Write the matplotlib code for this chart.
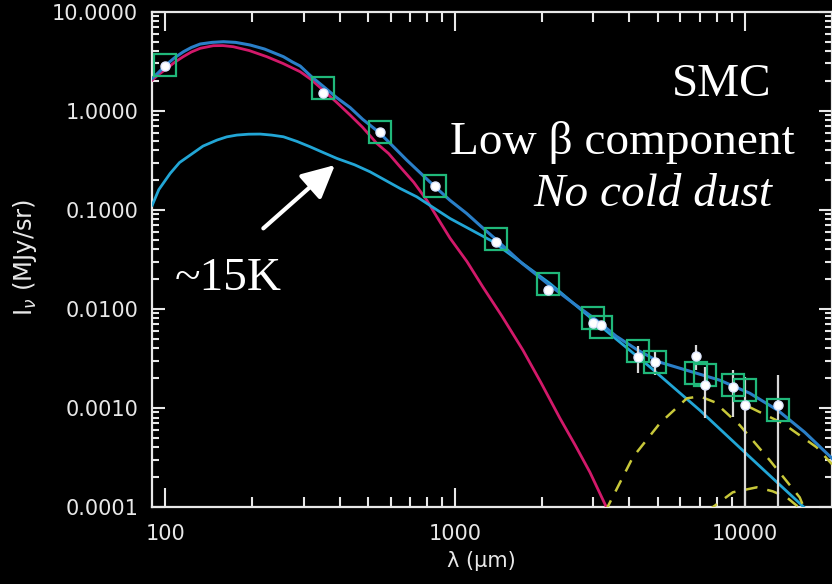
import numpy as np
import matplotlib
matplotlib.use("Agg")
import matplotlib.pyplot as plt
from matplotlib.ticker import FixedLocator, NullFormatter

# band wavelengths (micron), model photometry and measured fluxes (MJy/sr)
lam_bands = [100, 350, 550, 850, 1382, 2097, 3000, 3190, 4283, 4915,
             6813, 7312, 9085, 9993, 13034]
model_flux = [2.89, 1.71, 0.605, 0.173, 0.0506, 0.01775, 0.0080, 0.00658,
              0.00377, 0.00292, 0.00226, 0.00214, 0.00169, 0.00151, 0.00095]
obs_flux = [2.85, 1.52, 0.605, 0.173, 0.0469, 0.01545, 0.00712, 0.0069,
            0.00323, 0.00292, 0.00335, 0.0017, 0.00161, 0.00106, 0.00106]
obs_err = [0.1, 0.05, 0.02, 0.005, 0.0015, 0.0005, 0.0004, 0.0004,
           0.001, 0.00075, 0.00095, 0.0009, 0.0008, 0.001, 0.0011]

# warm dust component
warm_lam = [90.2, 95, 101.4, 108, 115.3, 123, 132.0, 146.4, 158, 171.6, 195,
            224.2, 255, 292.2, 320, 349.9, 390, 434.5, 480, 537, 590, 646,
            720, 798.8, 870, 961, 1100, 1249, 1450, 1716, 1980, 2302, 2600,
            2922, 3450]
warm_flux = [2.042, 2.33, 2.682, 3.1, 3.512, 3.92, 4.269, 4.536, 4.55, 4.432,
             4.05, 3.512, 3.0, 2.477, 2.05, 1.619, 1.22, 0.905, 0.68, 0.4685,
             0.37, 0.2719, 0.19, 0.1253, 0.083, 0.0518, 0.030, 0.01656,
             0.0085, 0.003826, 0.0018, 0.000787, 0.00042, 0.000224, 0.00008]

# low beta (~15K) component
cold_lam = [90.2, 95, 104.0, 112, 121.9, 135, 150.8, 163, 176.7, 194, 212.6,
            233, 255.8, 285, 316.2, 350, 390.9, 450, 509.2, 646, 737.9, 961,
            1342, 2126, 3089, 4704, 6995, 10404, 16600]
cold_flux = [0.1115, 0.16, 0.2332, 0.30, 0.3568, 0.44, 0.5058, 0.545, 0.5683,
             0.58, 0.5817, 0.568, 0.5462, 0.49, 0.4329, 0.38, 0.3305, 0.285,
             0.2419, 0.1645, 0.1353, 0.0818, 0.04829, 0.01805, 0.007171,
             0.002595, 0.000948, 0.00032, 0.00009]

# total model
tot_lam = [90.2, 95, 101.4, 108, 115.6, 123, 132.0, 145, 158.9, 175, 196.4,
           220, 255.8, 275, 292.2, 320, 349.9, 390, 434.5, 480, 547, 610,
           681.4, 760, 848.4, 960, 1097, 1230, 1381, 1700, 2097, 2550, 3081,
           3600, 4276, 5093, 6461, 8200, 10404, 12994, 16105, 20000]
tot_flux = [2.125, 2.45, 2.963, 3.45, 3.945, 4.35, 4.717, 4.9, 4.977, 4.9,
            4.608, 4.2, 3.512, 3.1, 2.828, 2.2, 1.776, 1.36, 1.077, 0.82,
            0.605, 0.44, 0.3177, 0.235, 0.1735, 0.125, 0.0919, 0.068, 0.0506,
            0.029, 0.01776, 0.0115, 0.00769, 0.0053, 0.003826, 0.002894,
            0.002348, 0.001905, 0.001408, 0.000948, 0.000568, 0.00031]

# spinning dust components
spin_lam = [3300, 4110, 5093, 6310, 6995, 7882, 9611, 12198, 15475, 16200]
spin_flux = [0.00009, 0.000318, 0.0007, 0.00125, 0.00131, 0.001142,
             0.000669, 0.000296, 0.000125, 0.00009]
spin2_lam = [10404, 13521, 17717, 20000]
spin2_flux = [0.001016, 0.0007, 0.0004, 0.00027]
small_lam = [7400, 9093, 11000, 12493, 13961, 16000]
small_flux = [0.00009, 0.0001408, 0.000158, 0.000144, 0.000125, 0.00009]

W, H = 832, 584
fig = plt.figure(figsize=(W / 100, H / 100), dpi=100, facecolor="black")
ax = fig.add_axes([152 / W, 1 - 507 / H, (832 - 152) / W, (507 - 11.7) / H])
ax.set_facecolor("black")
ax.set_xscale("log")
ax.set_yscale("log")
ax.set_xlim(90, 20000)
ax.set_ylim(1e-4, 10)

fg = "#e8e8e8"
for s in ax.spines.values():
    s.set_color(fg)
    s.set_linewidth(1.6)

ax.xaxis.set_major_locator(FixedLocator([100, 1000, 10000]))
ax.xaxis.set_minor_locator(FixedLocator(
    [m * 10 ** e for e in (2, 3, 4) for m in range(2, 10) if m * 10 ** e < 20000]))
ax.xaxis.set_minor_formatter(NullFormatter())
ax.set_xticklabels(["100", "1000", "10000"])
ax.yaxis.set_major_locator(FixedLocator([1e-4, 1e-3, 1e-2, 1e-1, 1, 10]))
ax.yaxis.set_minor_locator(FixedLocator(
    [m * 10.0 ** e for e in range(-4, 1) for m in range(2, 10)]))
ax.yaxis.set_minor_formatter(NullFormatter())
ax.set_yticklabels(["0.0001", "0.0010", "0.0100", "0.1000", "1.0000", "10.0000"])

ax.tick_params(axis="x", which="major", direction="in", length=14, width=1.5,
               color=fg, labelcolor=fg, labelsize=15, pad=12, top=True)
ax.tick_params(axis="x", which="minor", direction="in", length=7, width=1.5,
               color=fg, top=True)
ax.tick_params(axis="y", which="major", direction="in", length=9.5, width=1.5,
               color=fg, labelcolor=fg, labelsize=15, pad=10, right=True)
ax.tick_params(axis="y", which="minor", direction="in", length=5, width=1.5,
               color=fg, right=True)

# model curves
ax.plot(warm_lam, warm_flux, color="#d2196a", lw=2.0, zorder=3)
ax.plot(cold_lam, cold_flux, color="#22a6d6", lw=2.0, zorder=3)
ax.plot(spin_lam, spin_flux, color="#c8c83a", lw=1.8, ls=(0, (5, 4)), zorder=3)
ax.plot(spin2_lam, spin2_flux, color="#c8c83a", lw=1.8, ls=(0, (5, 4)), zorder=3)
ax.plot(small_lam, small_flux, color="#c8c83a", lw=1.8, ls=(0, (5, 4)), zorder=3)
ax.plot(tot_lam, tot_flux, color="#2a7fc8", lw=2.2, zorder=4)

# data with error bars and band-integrated model
ax.errorbar(lam_bands, obs_flux, yerr=obs_err, fmt="none", ecolor="#d8d8d8",
            elinewidth=1.6, capsize=0, zorder=5)
ax.plot(lam_bands, model_flux, ls="none", marker="s", ms=15.5, mfc="none",
        mec="#20b87a", mew=1.6, zorder=6)
ax.plot(lam_bands, obs_flux, ls="none", marker="o", ms=6.5, mfc="white",
        mec="#dfe8ff", zorder=7)

ax.annotate("", xy=(385, 0.283), xytext=(218, 0.065),
            arrowprops=dict(arrowstyle="-|>,head_length=1.0,head_width=0.5",
                            color="white", lw=3, mutation_scale=20,
                            shrinkA=0, shrinkB=0))

serif = "Liberation Serif"
fig.text(771 / W, 1 - 96 / H, "SMC", color="white", fontsize=34,
         family=serif, ha="right", va="baseline")
fig.text(795 / W, 1 - 154 / H, "Low \u03b2 component", color="white",
         fontsize=34, family=serif, ha="right", va="baseline")
fig.text(772 / W, 1 - 206 / H, "No cold dust", color="white", fontsize=34,
         family=serif, style="italic", ha="right", va="baseline")
fig.text(175 / W, 1 - 290 / H, "~15K", color="white", fontsize=34,
         family=serif, ha="left", va="baseline")

fig.text(481 / W, 1 - 561 / H, "\u03bb (\u03bcm)", color=fg, fontsize=15,
         ha="center", va="center")
fig.text(25 / W, 1 - 257 / H, r"I$_\nu$ (MJy/sr)", color=fg, fontsize=17.5,
         rotation=90, ha="center", va="center")

fig.savefig("out.png", dpi=100, facecolor="black")
